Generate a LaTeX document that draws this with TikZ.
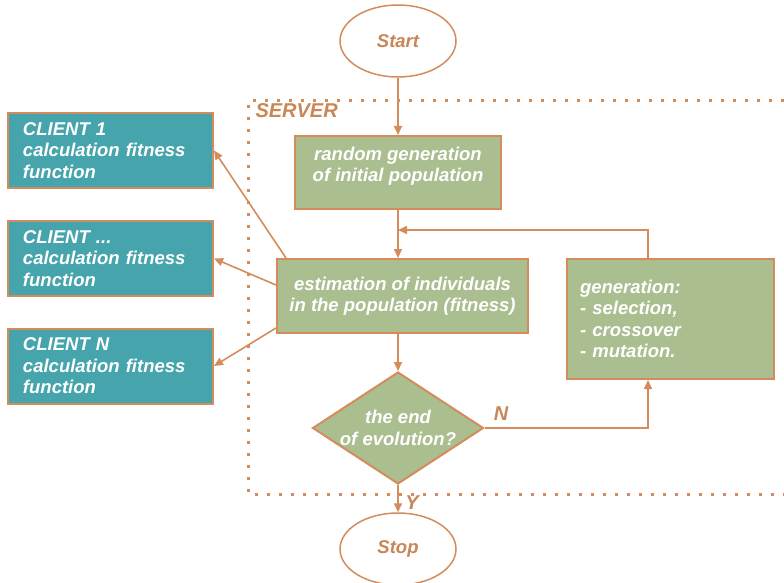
\documentclass[tikz,border=0pt]{standalone}
\usepackage{fontspec}
\setmainfont{Liberation Sans}
\usetikzlibrary{shapes.geometric,arrows.meta}
\definecolor{flowline}{RGB}{212,140,92}
\definecolor{flowtext}{RGB}{201,134,86}
\definecolor{greenbox}{RGB}{170,190,144}
\definecolor{tealbox}{RGB}{70,164,172}

\begin{document}
\begin{tikzpicture}[x=1pt,y=-1pt,
  every node/.style={font=\fontsize{18.5}{21.5}\selectfont\bfseries\itshape},
  terminal/.style={ellipse,draw=flowline,line width=1.5pt,fill=white,text=flowtext,
    minimum width=116pt,minimum height=72pt,inner sep=0pt},
  process/.style={rectangle,draw=flowline,line width=2pt,fill=greenbox,text=white,inner sep=0pt},
  client/.style={rectangle,draw=flowline,line width=2pt,fill=tealbox,text=white,align=left,
    text width=175pt,minimum width=205pt,minimum height=75pt,inner sep=0pt},
  decision/.style={diamond,draw=flowline,line width=2pt,fill=greenbox,text=white,align=center,
    aspect=1.53,minimum width=171pt,minimum height=112pt,inner sep=0pt},
  flow/.style={draw=flowline,line width=1.6pt,-{Triangle[length=9pt,width=8pt]}},
  serverline/.style={draw=flowline,line width=3pt,dash pattern=on 3pt off 9pt},
  tag/.style={text=flowtext,font=\fontsize{20}{22}\selectfont\bfseries\itshape}]
  \useasboundingbox (0,0) rectangle (784,583);

  \draw[serverline] (784,101) -- (248,101) -- (248,494) -- (784,494);
  \node[tag,anchor=west] (server) at (252,111) {SERVER};

  \node[terminal] (start) at (398,41) {Start};
  \node[process,align=center,minimum width=206pt,minimum height=73pt,text depth=16pt]
    (init) at (398,172.5) {random generation\\of initial population};
  \node[process,align=center,minimum width=251pt,minimum height=74pt]
    (est) at (402.5,296) {estimation of individuals\\in the population (fitness)};
  \node[process,align=left,text width=181pt,minimum width=207pt,minimum height=120pt]
    (gen) at (670.5,319) {generation:\\- selection,\\- crossover\\- mutation.};
  \node[decision] (test) at (398,428) {the end\\of evolution?};
  \node[terminal] (stop) at (398,549) {Stop};

  \node[client] (client1) at (110.5,150.5) {CLIENT 1\\calculation fitness\\function};
  \node[client] (client2) at (110.5,258.5) {CLIENT ...\\calculation fitness\\function};
  \node[client] (clientN) at (110.5,366) {CLIENT N\\calculation fitness\\function};

  \coordinate (merge) at (398,230);
  \coordinate (loop) at (648,230);

  \draw[flow] (start.south) -- (start.south |- init.north);
  \draw[flow] (init.south) -- (init.south |- est.north);
  \draw[flow] (est.south -| test.north) -- (test.north);
  \draw[flow] (test.south) -- (stop.north);
  \draw[flow] (test.east) -| (gen.south -| loop);
  \draw[flow] (gen.north -| loop) -- (loop) -- (merge);

  \draw[flow] ([xshift=10pt]est.north west) -- (client1.east);
  \draw[flow] ([yshift=11pt]est.west) -- (client2.east);
  \draw[flow] ([yshift=6pt]est.south west) -- (clientN.east);

  \node[tag] (no) at (501,414) {N};
  \node[tag] (yes) at (412,503) {Y};
\end{tikzpicture}
\end{document}
